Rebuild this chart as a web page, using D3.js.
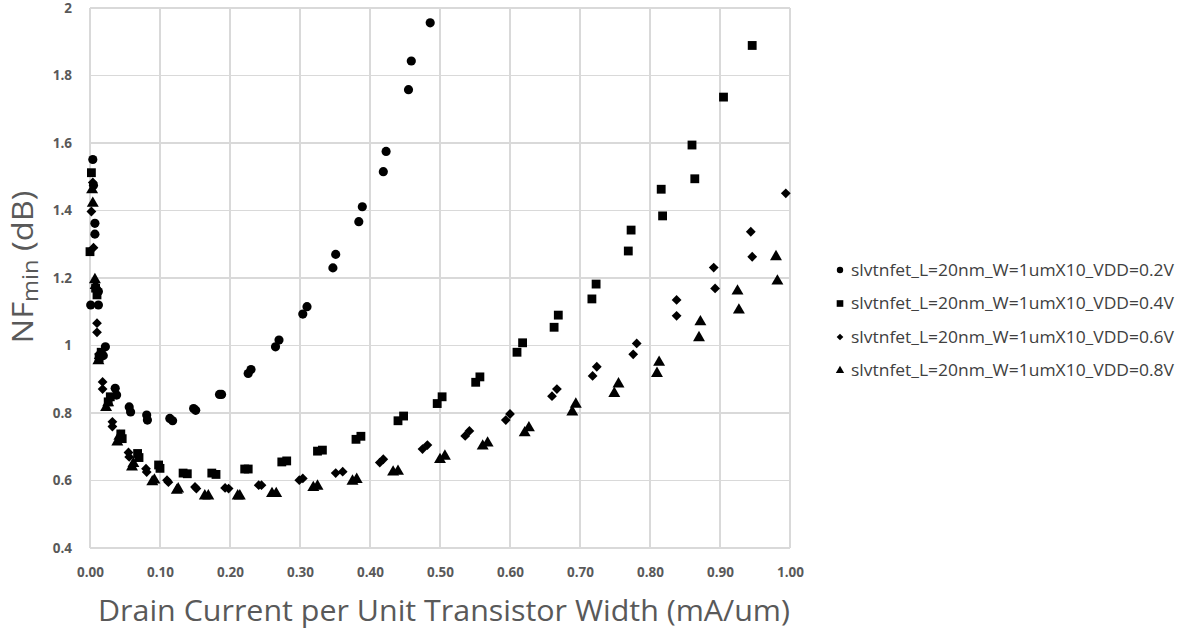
<!DOCTYPE html>
<html>
<head>
<meta charset="utf-8">
<script src="https://cdn.jsdelivr.net/npm/d3@7"></script>
<style>
  html, body { margin: 0; padding: 0; background: #fff; }
  svg { display: block; }
</style>
</head>
<body>
<svg id="chart" width="1185" height="634"></svg>
<script>
// Minimum noise figure vs. drain current density, four supply voltages.
const xTicks = [0, 0.1, 0.2, 0.3, 0.4, 0.5, 0.6, 0.7, 0.8, 0.9, 1.0];
const yTicks = [0.4, 0.6, 0.8, 1.0, 1.2, 1.4, 1.6, 1.8, 2.0];

const seriesNames = [
  "slvtnfet_L=20nm_W=1umX10_VDD=0.2V",
  "slvtnfet_L=20nm_W=1umX10_VDD=0.4V",
  "slvtnfet_L=20nm_W=1umX10_VDD=0.6V",
  "slvtnfet_L=20nm_W=1umX10_VDD=0.8V"
];

// [current (mA/um), NFmin (dB)]
const vdd02 = [
  [0.004,1.551],[0.005,1.475],[0.007,1.362],[0.007,1.330],[0.012,1.160],
  [0.001,1.120],[0.012,1.120],[0.019,0.970],[0.022,0.996],[0.036,0.873],
  [0.038,0.853],[0.056,0.818],[0.058,0.803],[0.081,0.794],[0.082,0.779],
  [0.114,0.784],[0.118,0.777],[0.148,0.813],[0.151,0.808],[0.185,0.855],
  [0.188,0.855],[0.226,0.917],[0.230,0.929],[0.265,0.996],[0.270,1.016],
  [0.304,1.093],[0.310,1.115],[0.347,1.230],[0.351,1.270],[0.384,1.367],
  [0.389,1.411],[0.419,1.515],[0.423,1.575],[0.455,1.758],[0.459,1.843],
  [0.486,1.956]
];
const vdd04 = [
  [0.002,1.512],[0.000,1.278],[0.008,1.170],[0.010,1.150],[0.013,0.963],
  [0.016,0.980],[0.026,0.833],[0.029,0.848],[0.044,0.738],[0.046,0.724],
  [0.068,0.680],[0.070,0.668],[0.098,0.646],[0.100,0.636],[0.133,0.622],
  [0.139,0.620],[0.174,0.622],[0.180,0.618],[0.221,0.634],[0.226,0.634],
  [0.274,0.655],[0.281,0.658],[0.325,0.687],[0.332,0.690],[0.380,0.722],
  [0.387,0.731],[0.440,0.777],[0.448,0.791],[0.496,0.828],[0.503,0.848],
  [0.551,0.891],[0.557,0.907],[0.610,0.980],[0.618,1.008],[0.663,1.054],
  [0.669,1.090],[0.717,1.138],[0.723,1.182],[0.769,1.280],[0.773,1.342],
  [0.818,1.384],[0.816,1.463],[0.864,1.494],[0.860,1.594],[0.905,1.736],
  [0.946,1.889]
];
const vdd06 = [
  [0.004,1.483],[0.002,1.397],[0.005,1.290],[0.010,1.066],[0.010,1.039],
  [0.013,0.975],[0.018,0.892],[0.018,0.871],[0.032,0.774],[0.032,0.760],
  [0.055,0.683],[0.056,0.670],[0.080,0.635],[0.081,0.625],[0.110,0.601],
  [0.112,0.595],[0.150,0.581],[0.152,0.576],[0.193,0.578],[0.198,0.576],
  [0.241,0.586],[0.245,0.586],[0.299,0.601],[0.304,0.606],[0.351,0.622],
  [0.361,0.626],[0.414,0.653],[0.419,0.663],[0.475,0.693],[0.482,0.705],
  [0.536,0.732],[0.542,0.747],[0.594,0.779],[0.600,0.797],[0.660,0.850],
  [0.667,0.871],[0.718,0.910],[0.724,0.937],[0.776,0.974],[0.781,1.006],
  [0.838,1.088],[0.838,1.135],[0.893,1.169],[0.891,1.231],[0.946,1.263],
  [0.944,1.337],[0.994,1.451]
];
const vdd08 = [
  [0.003,1.461],[0.004,1.421],[0.007,1.195],[0.008,1.178],[0.012,0.955],
  [0.014,0.970],[0.023,0.816],[0.026,0.830],[0.039,0.714],[0.042,0.731],
  [0.060,0.640],[0.062,0.650],[0.089,0.596],[0.092,0.601],[0.124,0.571],
  [0.126,0.575],[0.164,0.554],[0.169,0.554],[0.211,0.554],[0.214,0.554],
  [0.260,0.561],[0.266,0.561],[0.319,0.579],[0.325,0.583],[0.375,0.598],
  [0.381,0.603],[0.433,0.625],[0.440,0.627],[0.500,0.662],[0.507,0.672],
  [0.561,0.702],[0.568,0.711],[0.621,0.741],[0.627,0.756],[0.689,0.803],
  [0.694,0.826],[0.749,0.858],[0.755,0.886],[0.810,0.917],[0.813,0.950],
  [0.870,1.023],[0.872,1.070],[0.927,1.105],[0.925,1.161],[0.982,1.191],
  [0.980,1.263]
];

// square rotated 45° (equal width and height)
const symbolRhombus = {
  draw(ctx, size) {
    const r = Math.sqrt(size / 2);
    ctx.moveTo(0, -r); ctx.lineTo(r, 0); ctx.lineTo(0, r); ctx.lineTo(-r, 0); ctx.closePath();
  }
};

const allSeries = [vdd02, vdd04, vdd06, vdd08];
const symbols = [d3.symbolCircle, d3.symbolSquare, symbolRhombus, d3.symbolTriangle];
const markSizes = [66, 78, 48, 62];
const legendSizes = [32, 44, 22, 30];

const svg = d3.select("#chart");
const margin = { left: 90, top: 8, right: 395, bottom: 86 };
const W = 1185, H = 634;

const x = d3.scaleLinear().domain([0, 1]).range([margin.left, W - margin.right]);
const y = d3.scaleLinear().domain([0.4, 2]).range([H - margin.bottom, margin.top]);

const gridColor = "#d9d9d9";
const tickColor = "#595959";
const fontFam = "'Open Sans', 'Liberation Sans', sans-serif";

// grid
svg.append("g").selectAll("line.v").data(xTicks).join("line")
  .attr("x1", d => x(d)).attr("x2", d => x(d))
  .attr("y1", y(2)).attr("y2", y(0.4))
  .attr("stroke", gridColor).attr("stroke-width", 1.3)
  .attr("shape-rendering", "crispEdges");
svg.append("g").selectAll("line.h").data(yTicks).join("line")
  .attr("x1", x(0)).attr("x2", x(1))
  .attr("y1", d => y(d)).attr("y2", d => y(d))
  .attr("stroke", gridColor).attr("stroke-width", 1.3)
  .attr("shape-rendering", "crispEdges");

// axes (labels only; the grid provides the lines)
const xAxis = d3.axisBottom(x).tickValues(xTicks).tickFormat(d3.format(".2f")).tickSize(0).tickPadding(19);
const yAxis = d3.axisLeft(y).tickValues(yTicks).tickFormat(d => d3.format("~g")(d)).tickSize(0).tickPadding(18);

const gx = svg.append("g").attr("transform", `translate(0,${y(0.4)})`).call(xAxis);
const gy = svg.append("g").attr("transform", `translate(${x(0)},0)`).call(yAxis);
[gx, gy].forEach(g => {
  g.select(".domain").remove();
  g.selectAll("text")
    .attr("fill", tickColor)
    .style("font-family", fontFam)
    .style("font-size", "13.5px")
    .style("font-weight", "bold");
});

// data markers
allSeries.forEach((data, i) => {
  svg.append("g").selectAll("path").data(data).join("path")
    .attr("transform", d => `translate(${x(d[0])},${y(d[1])})`)
    .attr("d", d3.symbol().type(symbols[i]).size(markSizes[i]))
    .attr("fill", "#000");
});

// axis titles
svg.append("text")
  .attr("x", 444).attr("y", 621)
  .attr("text-anchor", "middle")
  .attr("fill", tickColor)
  .attr("textLength", 692)
  .attr("lengthAdjust", "spacingAndGlyphs")
  .style("font-family", fontFam)
  .style("font-size", "29px")
  .text("Drain Current per Unit Transistor Width (mA/um)");

const yt = svg.append("text")
  .attr("transform", `translate(33,267) rotate(-90)`)
  .attr("text-anchor", "middle")
  .attr("fill", tickColor)
  .attr("textLength", 153)
  .attr("lengthAdjust", "spacingAndGlyphs")
  .style("font-family", fontFam)
  .style("font-size", "29px");
yt.append("tspan").text("NF");
yt.append("tspan").attr("dy", 5).style("font-size", "21px").text("min");
yt.append("tspan").attr("dy", -5).text(" (dB)");

// legend
const legend = svg.append("g").attr("transform", "translate(840,270)");
seriesNames.forEach((name, i) => {
  const row = legend.append("g").attr("transform", `translate(0,${i * 33.5})`);
  row.append("path")
    .attr("d", d3.symbol().type(symbols[i]).size(legendSizes[i]))
    .attr("fill", "#000");
  row.append("text")
    .attr("x", 11).attr("y", 5.5)
    .attr("fill", "#404040")
    .attr("textLength", 323)
    .attr("lengthAdjust", "spacingAndGlyphs")
    .style("font-family", fontFam)
    .style("font-size", "15.5px")
    .text(name);
});
</script>
</body>
</html>
